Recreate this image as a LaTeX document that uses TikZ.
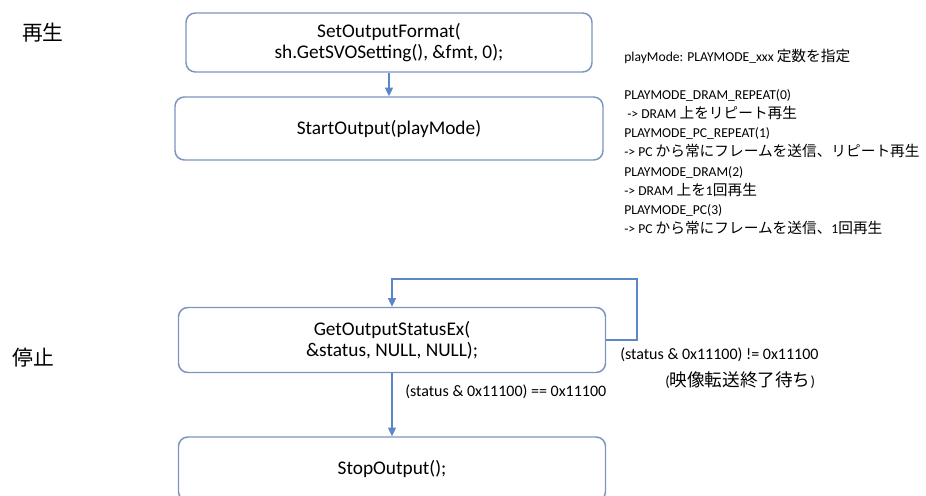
\documentclass[tikz,border=0pt]{standalone}
\usepackage{fontspec}
\setmainfont{Carlito}
\newfontfamily\cjk[Scale=1.2]{Noto Sans CJK JP}
\newfontfamily\cjkn[Scale=1.08]{Noto Sans CJK JP}
\usetikzlibrary{arrows.meta}
\definecolor{boxline}{RGB}{124,148,190}
\definecolor{connblue}{RGB}{90,134,202}
\tikzset{
  fbox/.style={draw=boxline, line width=1.1pt, rounded corners=7pt, align=center,
    font=\fontsize{14.5}{15.5}\selectfont, inner sep=0pt},
  conn/.style={draw=connblue, line width=0.8pt, -{Triangle[length=6.5pt,width=6pt]}},
  lab/.style={font=\fontsize{13}{15}\selectfont, inner sep=0pt},
  note/.style={font=\fontsize{10.2}{12}\selectfont, anchor=base west, inner sep=0pt},
  cond/.style={font=\fontsize{12}{14}\selectfont, anchor=base west, inner sep=0pt},
}
\begin{document}
\begin{tikzpicture}[x=0.75pt,y=-0.75pt]
\clip (0,0) rectangle (926,496);
% boxes
\node[fbox, minimum width=304.5pt, minimum height=44.25pt] (b1) at (389,42.5)
  {SetOutputFormat(\\sh.GetSVOSetting(), \&fmt, 0);};
\node[fbox, minimum width=321pt, minimum height=47.25pt] (b2) at (389,128.5)
  {StartOutput(playMode)};
\node[fbox, minimum width=320.25pt, minimum height=48.75pt] (b3) at (392,340)
  {GetOutputStatusEx(\\\&status, NULL, NULL);};
\node[fbox, minimum width=320.25pt, minimum height=48pt] (b4) at (392,469)
  {StopOutput();};
% connectors
\draw[conn] (b1) -- (b2);
\draw[conn] (b3) -- (b4);
\coordinate (lp) at (637,279);
\draw[conn] (b3.east) -| (lp) -| (b3.north);
% section labels
\node[lab] (play) at (43,33) {\cjk 再生};
\node[lab] (stop) at (33,358) {\cjk 停止};
% notes
\node[note] (pm) at (624,61.5) {playMode: PLAYMODE\_xxx {\cjkn 定数を指定}};
\node[note] (m1) at (624,99.5) {PLAYMODE\_DRAM\_REPEAT(0)};
\node[note] (m2) at (627,118.6) {-> DRAM {\cjkn 上をリピート再生}};
\node[note] (m3) at (624,137.8) {PLAYMODE\_PC\_REPEAT(1)};
\node[note] (m4) at (624,156.9) {-> PC {\cjkn から常にフレームを送信、リピート再生}};
\node[note] (m5) at (624,176.1) {PLAYMODE\_DRAM(2)};
\node[note] (m6) at (624,195.2) {-> DRAM {\cjkn 上を}1{\cjkn 回再生}};
\node[note] (m7) at (624,214.3) {PLAYMODE\_PC(3)};
\node[note] (m8) at (624,233.5) {-> PC {\cjkn から常にフレームを送信、}1{\cjkn 回再生}};
% condition labels
\node[cond] (eq) at (405,396.5) {(status \& 0x11100) == 0x11100};
\node[cond] (ne) at (620,359.5) {(status \& 0x11100) != 0x11100};
\node[cond, font=\fontsize{11}{13}\selectfont] (wait) at (665,386.5) {({\cjk 映像転送終了待ち})};
\end{tikzpicture}
\end{document}
